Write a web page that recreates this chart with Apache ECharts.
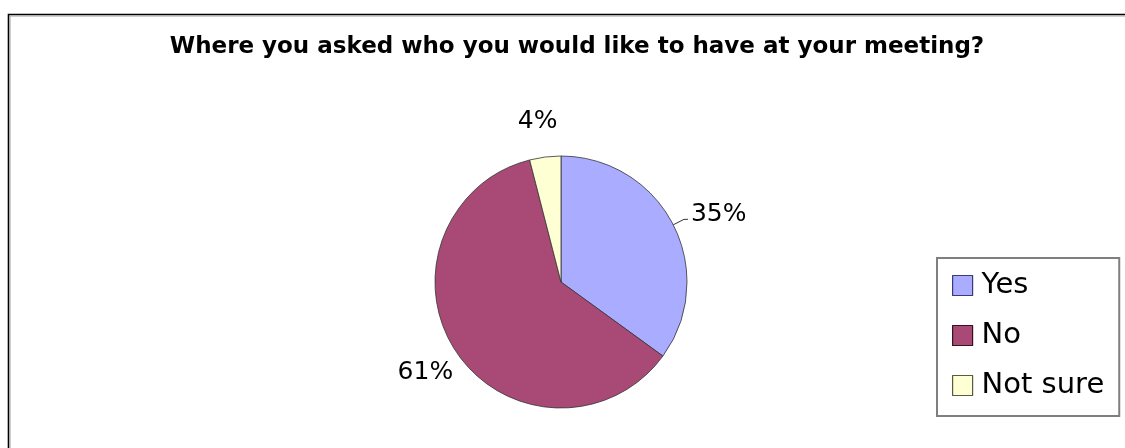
<!DOCTYPE html>
<html>
<head>
<meta charset="utf-8">
<script src="https://cdn.jsdelivr.net/npm/echarts@6/dist/echarts.min.js"></script>
<style>
  html, body { margin: 0; padding: 0; background: #ffffff; }
  #chart { width: 1125px; height: 448px; }
</style>
</head>
<body>
<div id="chart"></div>
<script>
const titleText = 'Where you asked who you would like to have at your meeting?';
const categories = ['Yes', 'No', 'Not sure'];
const values = [35, 61, 4];
const colors = ['#A9ACFF', '#A94A76', '#FFFFD4'];
const symbolBorders = ['#3a3a7a', '#3a1020', '#5a5a40'];

const FONT = 'DejaVu Sans';

const labelShifts = [[0, -5], [6, 15], [19, -6]];
const lineLengths = [[12, 4], [8, 0], [30, 0]];
const showLines = [true, false, false];

const data = categories.map((name, i) => ({
  name: name,
  value: values[i],
  itemStyle: { color: colors[i] },
  labelLine: { show: showLines[i], length: lineLengths[i][0], length2: lineLengths[i][1] }
}));

const chart = echarts.init(document.getElementById('chart'), null, { renderer: 'canvas' });
chart.setOption({
  backgroundColor: '#ffffff',
  animation: false,
  title: {
    text: titleText,
    left: 572,
    textAlign: 'center',
    top: 31,
    textStyle: { fontFamily: FONT, fontWeight: 'bold', fontSize: 23, color: '#000000' }
  },
  graphic: [{
    type: 'rect',
    shape: { x: 8.5, y: 14.5, width: 1130, height: 460 },
    style: { fill: 'none', stroke: '#000000', lineWidth: 1.6 },
    silent: true
  }, {
    type: 'rect',
    shape: { x: 10, y: 16, width: 1130, height: 460 },
    style: { fill: 'none', stroke: '#a0a0a0', lineWidth: 1 },
    silent: true
  }],
  legend: {
    orient: 'vertical',
    left: 937,
    top: 258,
    padding: [13, 15, 16, 15],
    borderColor: '#7f7f7f',
    borderWidth: 2,
    itemWidth: 20,
    itemHeight: 20,
    itemGap: 21,
    icon: 'rect',
    textStyle: { fontFamily: FONT, fontSize: 29, color: '#000000', padding: [0, 0, 0, 4] },
    data: categories.map((c, i) => ({
      name: c,
      itemStyle: { borderColor: symbolBorders[i], borderWidth: 1.2 }
    }))
  },
  series: [{
    type: 'pie',
    center: [561, 282],
    radius: [0, 126],
    startAngle: 90,
    clockwise: true,
    avoidLabelOverlap: false,
    itemStyle: { borderColor: '#333333', borderWidth: 0.8 },
    label: {
      show: true,
      position: 'outside',
      formatter: '{d}%',
      fontFamily: FONT,
      fontSize: 25,
      color: '#000000',
      distanceToLabelLine: 3
    },
    labelLine: {
      lineStyle: { color: '#333333', width: 1 }
    },
    labelLayout: function (params) {
      const s = labelShifts[params.dataIndex];
      return { dx: s[0], dy: s[1] };
    },
    data: data
  }]
});
</script>
</body>
</html>
